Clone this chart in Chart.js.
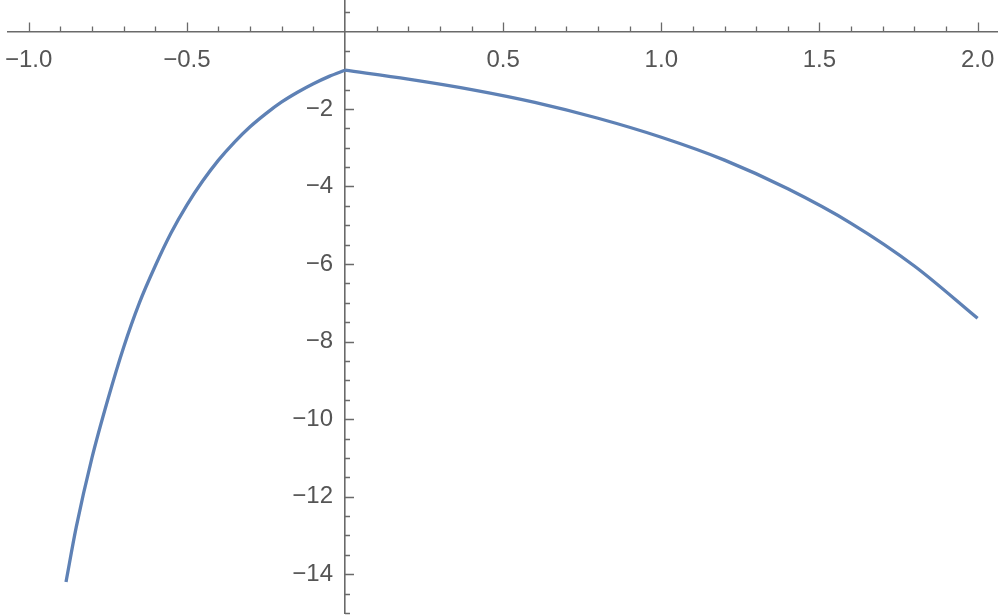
<!DOCTYPE html>
<html>
<head>
<meta charset="utf-8">
<script src="https://cdn.jsdelivr.net/npm/chart.js@4/dist/chart.umd.min.js"></script>
<style>
  html, body { margin: 0; padding: 0; background: #fff; }
  #wrap { width: 1000px; height: 616px; position: relative; }
</style>
</head>
<body>
<div id="wrap"><canvas id="plot"></canvas></div>
<script>
// curve, split at the kink at x = 0
const leftX = [-0.882, -0.85, -0.80, -0.75, -0.70, -0.65, -0.60, -0.55, -0.50, -0.45, -0.40, -0.35, -0.30, -0.25, -0.20, -0.15, -0.10, -0.05, 0];
const leftY = [-14.2, -12.8, -11.0, -9.5, -8.15, -7.0, -6.05, -5.2, -4.48, -3.86, -3.32, -2.86, -2.46, -2.12, -1.82, -1.57, -1.35, -1.16, -1.0];
const rightX = [0, 0.2, 0.4, 0.6, 0.8, 1.0, 1.2, 1.4, 1.6, 1.8, 2.0];
const rightY = [-1.0, -1.23, -1.5, -1.83, -2.24, -2.73, -3.32, -4.06, -4.95, -6.05, -7.4];

const xTicks = [-1.0, -0.5, 0.5, 1.0, 1.5, 2.0];
const yTicks = [-2, -4, -6, -8, -10, -12, -14];

const lineColor = "#5e81b5";
const axisColor = "#6a6a6a";
const labelColor = "#555555";
const labelFont = { family: "'Liberation Sans', Arial, sans-serif", size: 24 };

const toPoints = (xs, ys) => xs.map((x, i) => ({ x: x, y: ys[i] }));
const fmt = (v, digits) => {
    const s = Math.abs(v).toFixed(digits);
    return v < 0 ? "\u2212" + s : s;
};

// axis boxes take no room: the axes cross inside the plot
const noRoom = (scale) => {
    if (scale.isHorizontal()) scale.height = 0; else scale.width = 0;
    scale.paddingTop = 0;
    scale.paddingBottom = 0;
    scale.paddingLeft = 0;
    scale.paddingRight = 0;
};

// Mathematica-like small tick marks, pointing away from the labels
const minorTicks = {
    id: "minorTicks",
    beforeDatasetsDraw(chart) {
        const { ctx, scales: { x, y } } = chart;
        const x0 = x.getPixelForValue(0);
        const y0 = y.getPixelForValue(0);
        ctx.save();
        ctx.strokeStyle = axisColor;
        ctx.lineWidth = 1.3;
        ctx.beginPath();
        for (let i = -10; i <= 20; i++) {
            if (i === 0) continue;
            const px = Math.round(x.getPixelForValue(i / 10)) + 0.5;
            const len = i % 5 === 0 ? 9 : 5;
            ctx.moveTo(px, y0);
            ctx.lineTo(px, y0 - len);
        }
        for (let j = -30; j <= 1; j++) {
            if (j === 0) continue;
            const py = Math.round(y.getPixelForValue(j / 2)) + 0.5;
            const len = j % 4 === 0 ? 9 : 5;
            ctx.moveTo(x0, py);
            ctx.lineTo(x0 + len, py);
        }
        ctx.stroke();
        ctx.restore();
    }
};

const config = {
    type: "scatter",
    data: {
        datasets: [
            {
                data: toPoints(leftX, leftY),
                showLine: true,
                borderColor: lineColor,
                borderWidth: 3.3,
                pointRadius: 0,
                cubicInterpolationMode: "monotone"
            },
            {
                data: toPoints(rightX, rightY),
                showLine: true,
                borderColor: lineColor,
                borderWidth: 3.3,
                pointRadius: 0,
                cubicInterpolationMode: "monotone"
            }
        ]
    },
    options: {
        responsive: true,
        maintainAspectRatio: false,
        animation: false,
        layout: { padding: { left: 8, right: 3, top: 0, bottom: 3 } },
        plugins: { legend: { display: false }, tooltip: { enabled: false } },
        scales: {
            x: {
                type: "linear",
                position: { y: 0 },
                min: -1.0654,
                max: 2.0613,
                afterFit: noRoom,
                afterBuildTicks: (scale) => { scale.ticks = xTicks.map(v => ({ value: v })); },
                grid: { display: true, drawOnChartArea: false, drawTicks: false },
                border: { display: true, color: axisColor, width: 1.6 },
                ticks: {
                    padding: 15,
                    color: labelColor,
                    font: labelFont,
                    callback: (v) => fmt(v, 1)
                }
            },
            y: {
                type: "linear",
                position: { x: 0 },
                min: -15,
                max: 0.81,
                afterFit: noRoom,
                afterBuildTicks: (scale) => { scale.ticks = yTicks.map(v => ({ value: v })); },
                grid: { display: true, drawOnChartArea: false, drawTicks: false },
                border: { display: true, color: axisColor, width: 1.6 },
                ticks: {
                    color: labelColor,
                    font: labelFont,
                    callback: (v) => fmt(v, 0) + "\u2002"
                }
            }
        }
    },
    plugins: [minorTicks]
};

new Chart(document.getElementById("plot"), config);
</script>
</body>
</html>
